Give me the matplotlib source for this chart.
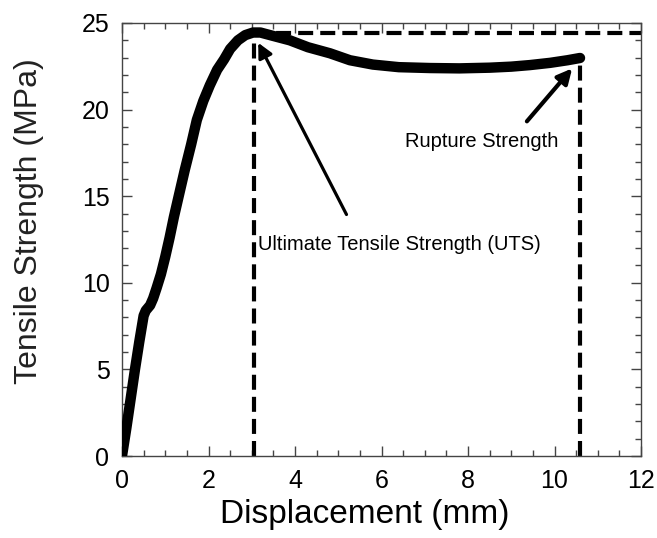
import numpy as np
import matplotlib
matplotlib.use("Agg")
import matplotlib.pyplot as plt
from matplotlib.ticker import MultipleLocator

# displacement (mm) / tensile strength (MPa)
displacement = [0, 0.1, 0.2, 0.3, 0.4, 0.5, 0.55, 0.65, 0.72, 0.8, 0.9, 1.0, 1.1, 1.2,
                1.32, 1.45, 1.6, 1.73, 1.88, 2.03, 2.2, 2.36, 2.5, 2.68, 2.85, 3.03,
                3.2, 3.5, 3.88, 4.3, 4.81, 5.27, 5.8, 6.4, 7.12, 7.8, 8.5, 9.0, 9.43,
                9.9, 10.3, 10.59]
strength = [0, 1.6, 3.3, 5.0, 6.6, 8.1, 8.4, 8.7, 9.1, 9.7, 10.5, 11.5, 12.6, 13.8,
            15.1, 16.5, 18.0, 19.4, 20.5, 21.4, 22.3, 22.9, 23.5, 24.0, 24.3, 24.45,
            24.45, 24.25, 24.0, 23.6, 23.25, 22.85, 22.6, 22.45, 22.4, 22.38, 22.42,
            22.48, 22.57, 22.7, 22.85, 22.98]

uts_x, uts_y = 3.05, 24.45
rupture_x, rupture_y = 10.6, 22.95

plt.rcParams['font.family'] = ['Liberation Sans', 'DejaVu Sans']

fig = plt.figure(figsize=(6.57, 5.38), dpi=100)
ax = fig.add_axes([122 / 657, 82 / 538, 519 / 657, 433 / 538])

dash = (0, (3.6, 1.7))
ax.plot([uts_x, uts_x], [0, uts_y], color='black', lw=3, ls=dash, zorder=2)
ax.plot([uts_x, 12], [uts_y, uts_y], color='black', lw=3, ls=dash, zorder=2, clip_on=False)
ax.plot([rupture_x, rupture_x], [0, rupture_y], color='black', lw=3, ls=dash, zorder=2)

ax.plot(displacement, strength, color='black', lw=7.5, solid_capstyle='round',
        solid_joinstyle='round', zorder=3)

ax.annotate('', xy=(3.12, 24.0), xytext=(5.22, 13.8),
            arrowprops=dict(arrowstyle='-|>', lw=2.3, color='black', mutation_scale=22),
            zorder=4)
ax.text(3.14, 11.9, 'Ultimate Tensile Strength (UTS)', fontsize=14.5, va='baseline', ha='left')

ax.annotate('', xy=(10.45, 22.5), xytext=(9.32, 19.2),
            arrowprops=dict(arrowstyle='-|>', lw=3, color='black', mutation_scale=22),
            zorder=4)
ax.text(6.54, 17.85, 'Rupture Strength', fontsize=14.5, va='baseline', ha='left')

ax.set_xlim(0, 12)
ax.set_ylim(0, 25)
ax.xaxis.set_major_locator(MultipleLocator(2))
ax.xaxis.set_minor_locator(MultipleLocator(0.5))
ax.yaxis.set_major_locator(MultipleLocator(5))
ax.yaxis.set_minor_locator(MultipleLocator(1))
ax.tick_params(which='both', direction='in', top=True, right=True, color='#444444', width=1)
ax.tick_params(which='major', length=7, labelsize=18, pad=9)
ax.tick_params(which='minor', length=4)
for s in ax.spines.values():
    s.set_color('#444444')
    s.set_linewidth(1)

ax.set_xlabel('Displacement (mm)', fontsize=24)
ax.set_ylabel('Tensile Strength (MPa)', fontsize=23, color='#222222')
ax.xaxis.set_label_coords(0.468, -0.10)
ax.yaxis.set_label_coords(-0.15, 0.543)

fig.savefig('out.png', dpi=100)
